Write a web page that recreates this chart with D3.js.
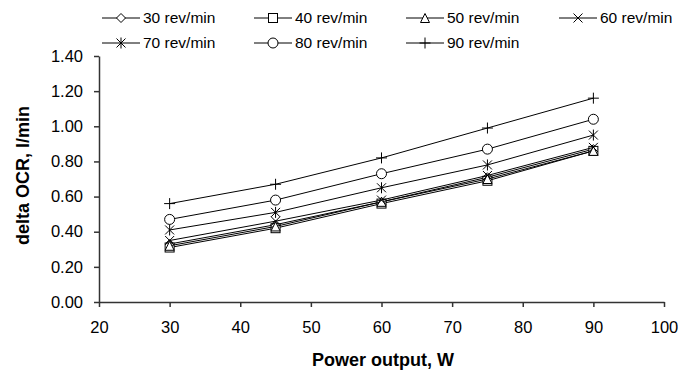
<!DOCTYPE html>
<html>
<head>
<meta charset="utf-8">
<script src="https://cdn.jsdelivr.net/npm/d3@7"></script>
<style>
  body { margin: 0; background: #fff; }
  text { font-family: "Liberation Sans", Arial, sans-serif; }
</style>
</head>
<body>
<svg id="chart"></svg>
<script>
const power = [30, 45, 60, 75, 90]
const seriesNames = ["30 rev/min", "40 rev/min", "50 rev/min", "60 rev/min", "70 rev/min", "80 rev/min", "90 rev/min"]
const symbols = ["diamond", "square", "triangle", "cross", "star", "circle", "plus"]
const rpm30 = [0.33, 0.44, 0.57, 0.71, 0.87]
const rpm40 = [0.31, 0.42, 0.56, 0.69, 0.86]
const rpm50 = [0.32, 0.43, 0.57, 0.70, 0.86]
const rpm60 = [0.35, 0.46, 0.58, 0.72, 0.88]
const rpm70 = [0.41, 0.51, 0.65, 0.78, 0.95]
const rpm80 = [0.47, 0.58, 0.73, 0.87, 1.04]
const rpm90 = [0.56, 0.67, 0.82, 0.99, 1.16]
const xTicks = [20, 30, 40, 50, 60, 70, 80, 90, 100]
const yTicks = [0, 0.2, 0.4, 0.6, 0.8, 1.0, 1.2, 1.4]

const series = [rpm30, rpm40, rpm50, rpm60, rpm70, rpm80, rpm90].map((vals, i) => ({
  name: seriesNames[i],
  symbol: symbols[i],
  values: vals.map((v, j) => ({ x: power[j], y: v }))
}))

const width = 694, height = 370
const margin = { top: 56, right: 30, bottom: 68, left: 99 }

const svg = d3.select("#chart")
    .attr("width", width)
    .attr("height", height)
    .attr("viewBox", [0, 0, width, height])

const x = d3.scaleLinear().domain([20, 100]).range([margin.left, 664])
const y = d3.scaleLinear().domain([0, 1.4]).range([height - margin.bottom, margin.top])

// marker path generator, centred on 0,0
function marker(sel, type) {
  const s = 4.5
  if (type === "diamond") sel.append("path").attr("d", `M0,${-s}L${s},0L0,${s}L${-s},0Z`).attr("fill", "#fff")
  else if (type === "square") sel.append("rect").attr("x", -s).attr("y", -s).attr("width", 2 * s).attr("height", 2 * s).attr("fill", "#fff")
  else if (type === "triangle") sel.append("path").attr("d", `M0,${-s}L${s},${s}L${-s},${s}Z`).attr("fill", "#fff")
  else if (type === "circle") sel.append("circle").attr("r", s + 0.5).attr("fill", "#fff")
  else if (type === "cross") sel.append("path").attr("d", `M${-s},${-s}L${s},${s}M${-s},${s}L${s},${-s}`).attr("fill", "none")
  else if (type === "star") sel.append("path").attr("d", `M${-s},${-s}L${s},${s}M${-s},${s}L${s},${-s}M0,${-s - 1}L0,${s + 1}`).attr("fill", "none")
  else if (type === "plus") sel.append("path").attr("d", `M${-s - 1},0L${s + 1},0M0,${-s - 1}L0,${s + 1}`).attr("fill", "none")
  sel.selectAll("*").attr("stroke", "#000").attr("stroke-width", 1)
}

const line = d3.line().x(d => x(d.x)).y(d => y(d.y))

// axes
svg.append("g")
    .attr("transform", `translate(0,${height - margin.bottom})`)
    .call(d3.axisBottom(x).tickValues(xTicks).tickSize(5).tickSizeOuter(0).tickPadding(14))
    .call(g => g.select(".domain").attr("stroke", "#333").attr("stroke-width", 1.5))
    .call(g => g.selectAll(".tick line").attr("stroke", "#333").attr("stroke-width", 1.5))
    .call(g => g.selectAll("text").attr("font-size", 16.5).attr("fill", "#000"))

svg.append("g")
    .attr("transform", `translate(${margin.left},0)`)
    .call(d3.axisLeft(y).tickValues(yTicks).tickFormat(d3.format(".2f")).tickSize(5).tickSizeOuter(0).tickPadding(11))
    .call(g => g.select(".domain").attr("stroke", "#333").attr("stroke-width", 1.5))
    .call(g => g.selectAll(".tick line").attr("stroke", "#333").attr("stroke-width", 1.5))
    .call(g => g.selectAll("text").attr("font-size", 16.5).attr("fill", "#000"))

// series
series.forEach(s => {
  svg.append("path")
      .attr("fill", "none")
      .attr("stroke", "#000")
      .attr("stroke-width", 1)
      .attr("d", line(s.values))
  svg.append("g").selectAll("g")
    .data(s.values)
    .join("g")
      .attr("transform", d => `translate(${x(d.x)},${y(d.y)})`)
      .each(function() { marker(d3.select(this), s.symbol) })
})

// legend
const legendX = [102, 254, 406, 559]
const legendY = [18, 43]
series.forEach((s, i) => {
  const g = svg.append("g")
      .attr("transform", `translate(${legendX[i % 4]},${legendY[Math.floor(i / 4)]})`)
  g.append("line").attr("x1", 0).attr("x2", 38).attr("stroke", "#000").attr("stroke-width", 1)
  g.append("g").attr("transform", "translate(19,0)").call(sel => marker(sel, s.symbol))
  g.append("text")
      .attr("x", 41)
      .attr("dy", "0.35em")
      .attr("font-size", 15.5)
      .text(s.name)
})

// axis titles
svg.append("text")
    .attr("x", 383)
    .attr("y", 366)
    .attr("text-anchor", "middle")
    .attr("font-size", 18)
    .attr("font-weight", "bold")
    .text("Power output, W")

svg.append("text")
    .attr("transform", `translate(29,${y(0.72)}) rotate(-90)`)
    .attr("text-anchor", "middle")
    .attr("font-size", 18)
    .attr("font-weight", "bold")
    .text("delta OCR, l/min")
</script>
</body>
</html>
